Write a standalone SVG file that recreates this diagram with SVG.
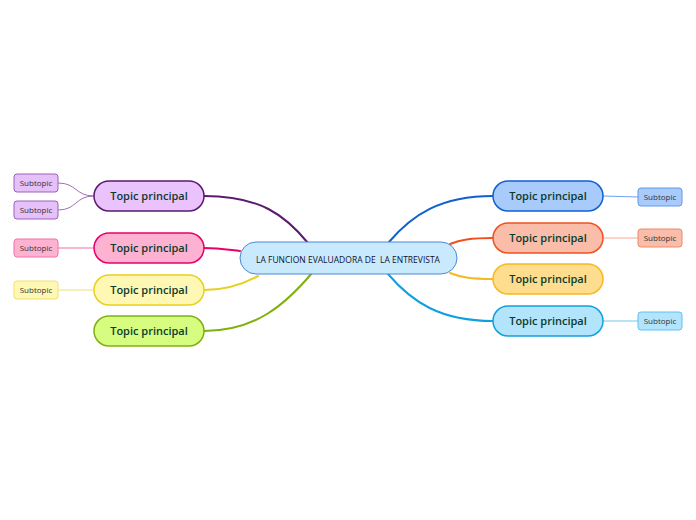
<svg xmlns="http://www.w3.org/2000/svg" width="696" height="520" viewBox="0 0 696 520">
<style>
.t{font-family:"Open Sans","Noto Sans",sans-serif;font-size:11px;fill:#0b3b2c;text-anchor:middle;font-weight:600}
.s{font-family:"Open Sans","Noto Sans",sans-serif;font-size:8px;fill:#333;text-anchor:middle}
.c{font-family:"Open Sans","Noto Sans",sans-serif;font-size:8.5px;fill:#101030;text-anchor:middle;font-weight:500}
.con path{fill:none;stroke-width:2;stroke-linecap:round}
.sub path{fill:none;stroke-width:1}
</style>
<rect width="696" height="520" fill="#fff"/>
<g id="connectors">
<g class="con">
<path d="M204,196 C260,196 285,215 308,243" stroke="#5a1a70"/>
<path d="M204,248 C220,248 230,250 240,251" stroke="#e8006a"/>
<path d="M204,290 C228,290 245,283 258,276" stroke="#e8d020"/>
<path d="M204,331 C255,331 285,305 312,273" stroke="#80b010"/>
<path d="M493,196 C440,196 412,215 389,242" stroke="#1060d0"/>
<path d="M493,238 C470,238 460,240 450,244" stroke="#f05020"/>
<path d="M493,279 C470,279 460,277 450,273" stroke="#f8b820"/>
<path d="M493,321 C440,321 412,302 388,274" stroke="#10a0e0"/>
</g>
<g class="sub">
<path d="M94,196 C75,196 77,183 58,183" stroke="#a070b8"/>
<path d="M94,196 C75,196 77,210 58,210" stroke="#a070b8"/>
<path d="M94,248 L58,248" stroke="#f070a8"/>
<path d="M94,290 L58,290" stroke="#f0e070"/>
<path d="M603,196 L638,197" stroke="#70a0f0"/>
<path d="M603,238 L638,238" stroke="#f8a890"/>
<path d="M603,321 L638,321" stroke="#70c8f0"/>
</g>
</g>
<g id="center">
<rect x="240" y="242" width="217" height="32" rx="16" fill="#c8eafc" stroke="#4a88d8" stroke-width="1"/>
<text class="c" x="348" y="263" xml:space="preserve">LA FUNCION EVALUADORA DE  LA ENTREVISTA</text>
</g>
<g id="topic-l1"><rect x="94" y="181" width="110" height="30" rx="15" fill="#eac2fc" stroke="#5a1a70" stroke-width="1.5"/><text class="t" x="149" y="200">Topic principal</text></g>
<g id="topic-l2"><rect x="94" y="233" width="110" height="30" rx="15" fill="#fdb2d2" stroke="#e8006a" stroke-width="1.5"/><text class="t" x="149" y="252">Topic principal</text></g>
<g id="topic-l3"><rect x="94" y="275" width="110" height="30" rx="15" fill="#fff8b4" stroke="#e8d020" stroke-width="1.5"/><text class="t" x="149" y="294">Topic principal</text></g>
<g id="topic-l4"><rect x="94" y="316" width="110" height="30" rx="15" fill="#d6fc80" stroke="#80b010" stroke-width="1.5"/><text class="t" x="149" y="335">Topic principal</text></g>
<g id="topic-r1"><rect x="493" y="181" width="110" height="30" rx="15" fill="#a8cbfc" stroke="#1060d0" stroke-width="1.5"/><text class="t" x="548" y="200">Topic principal</text></g>
<g id="topic-r2"><rect x="493" y="223" width="110" height="30" rx="15" fill="#f9bda9" stroke="#f05020" stroke-width="1.5"/><text class="t" x="548" y="242">Topic principal</text></g>
<g id="topic-r3"><rect x="493" y="264" width="110" height="30" rx="15" fill="#fede8e" stroke="#f8b820" stroke-width="1.5"/><text class="t" x="548" y="283">Topic principal</text></g>
<g id="topic-r4"><rect x="493" y="306" width="110" height="30" rx="15" fill="#b2e5fb" stroke="#10a0e0" stroke-width="1.5"/><text class="t" x="548" y="325">Topic principal</text></g>
<g id="sub-l1a"><rect x="14" y="174" width="44" height="18" rx="3" fill="#e6c0f8" stroke="#9a60b8"/><text class="s" x="36" y="186">Subtopic</text></g>
<g id="sub-l1b"><rect x="14" y="201" width="44" height="18" rx="3" fill="#e6c0f8" stroke="#9a60b8"/><text class="s" x="36" y="213">Subtopic</text></g>
<g id="sub-l2"><rect x="14" y="239" width="44" height="18" rx="3" fill="#fdb2d2" stroke="#f070a8"/><text class="s" x="36" y="251">Subtopic</text></g>
<g id="sub-l3"><rect x="14" y="281" width="44" height="18" rx="3" fill="#fff8b4" stroke="#f0e070"/><text class="s" x="36" y="293">Subtopic</text></g>
<g id="sub-r1"><rect x="638" y="188" width="44" height="18" rx="3" fill="#a8cbfc" stroke="#6098e8"/><text class="s" x="660" y="200">Subtopic</text></g>
<g id="sub-r2"><rect x="638" y="229" width="44" height="18" rx="3" fill="#f9bda9" stroke="#f08868"/><text class="s" x="660" y="241">Subtopic</text></g>
<g id="sub-r3"><rect x="638" y="312" width="44" height="18" rx="3" fill="#b2e5fb" stroke="#60c0f0"/><text class="s" x="660" y="324">Subtopic</text></g>
</svg>
